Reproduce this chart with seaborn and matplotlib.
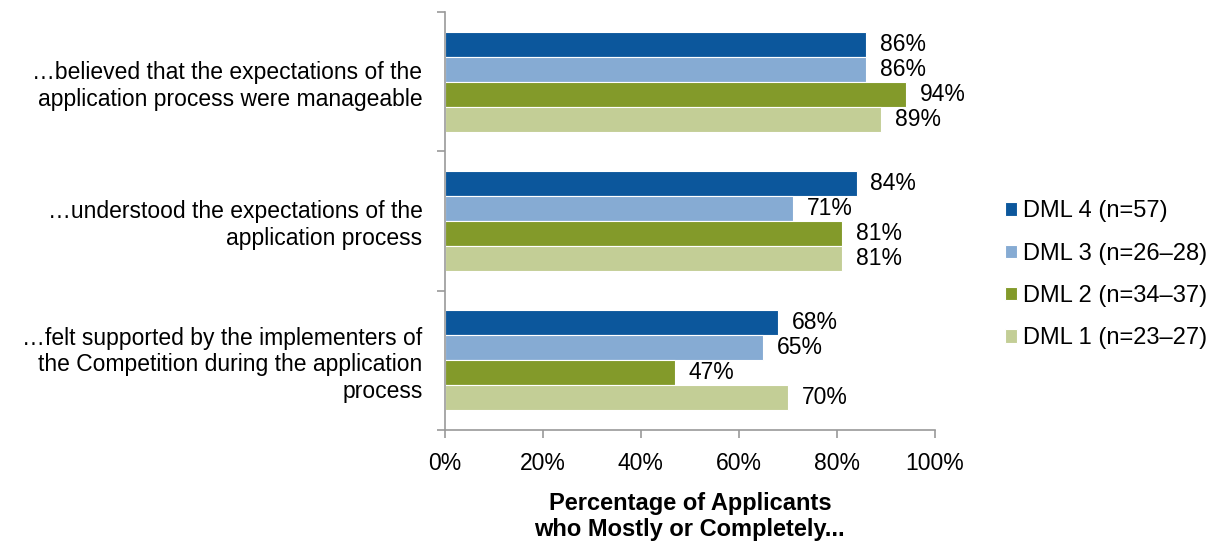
import numpy as np
import pandas as pd
import seaborn as sns
import matplotlib.pyplot as plt
from matplotlib.ticker import FixedLocator

categories = [
    '\u2026believed that the expectations of the\napplication process were manageable',
    '\u2026understood the expectations of the\napplication process',
    '\u2026felt supported by the implementers of\nthe Competition during the application\nprocess',
]
groups = ['DML 4 (n=57)', 'DML 3 (n=26\u201328)', 'DML 2 (n=34\u201337)', 'DML 1 (n=23\u201327)']
dml4 = [86, 84, 68]
dml3 = [86, 71, 65]
dml2 = [94, 81, 47]
dml1 = [89, 81, 70]
colors = ['#0C579C', '#86ABD3', '#839A2A', '#C3CE96']

rows = []
for g, vals in zip(groups, [dml4, dml3, dml2, dml1]):
    for c, v in zip(categories, vals):
        rows.append({'item': c, 'group': g, 'pct': v})
df = pd.DataFrame(rows)

sns.set_style('white')
plt.rcParams['font.family'] = ['Liberation Sans', 'DejaVu Sans']
plt.rcParams['font.size'] = 16.5
plt.rcParams['text.color'] = 'black'
plt.rcParams['xtick.color'] = 'black'
plt.rcParams['ytick.color'] = 'black'
plt.rcParams['axes.labelcolor'] = 'black'

fig = plt.figure(figsize=(12.15, 5.46), dpi=100)
ax = fig.add_axes([0.366, 0.2125, 0.4035, 0.7655])
sns.barplot(data=df, y='item', x='pct', hue='group', order=categories,
            hue_order=groups, palette=colors, saturation=1, orient='h',
            width=0.72, edgecolor='white', linewidth=0.8, ax=ax)

for cont in ax.containers:
    ax.bar_label(cont, labels=[f'{v:.0f}%' for v in cont.datavalues],
                 padding=10, fontsize=16.5)

ax.set_xlim(0, 100)
ax.set_ylim(2.5, -0.5)
ax.set_xticks(np.arange(0, 101, 20))
ax.set_xticklabels([f'{t}%' for t in range(0, 101, 20)])
ax.yaxis.set_minor_locator(FixedLocator([-0.5, 0.5, 1.5, 2.5]))
ax.tick_params(axis='y', which='major', length=0, pad=16)
ax.tick_params(axis='y', which='minor', length=6, color='#999999', width=1.2, left=True)
ax.tick_params(axis='x', length=6, color='#999999', width=1.2, bottom=True, pad=10)
for side in ['top', 'right']:
    ax.spines[side].set_visible(False)
for side in ['left', 'bottom']:
    ax.spines[side].set_color('#999999')
    ax.spines[side].set_linewidth(1.2)
ax.set_ylabel('')
ax.set_xlabel('Percentage of Applicants\nwho Mostly or Completely...',
              fontweight='bold', fontsize=17, labelpad=12)

ax.legend(loc='center left', bbox_to_anchor=(1.1, 0.371), frameon=False,
          handlelength=0.5, handleheight=0.5, labelspacing=0.86,
          handletextpad=0.25, fontsize=17)

fig.savefig('out.png', dpi=100)
